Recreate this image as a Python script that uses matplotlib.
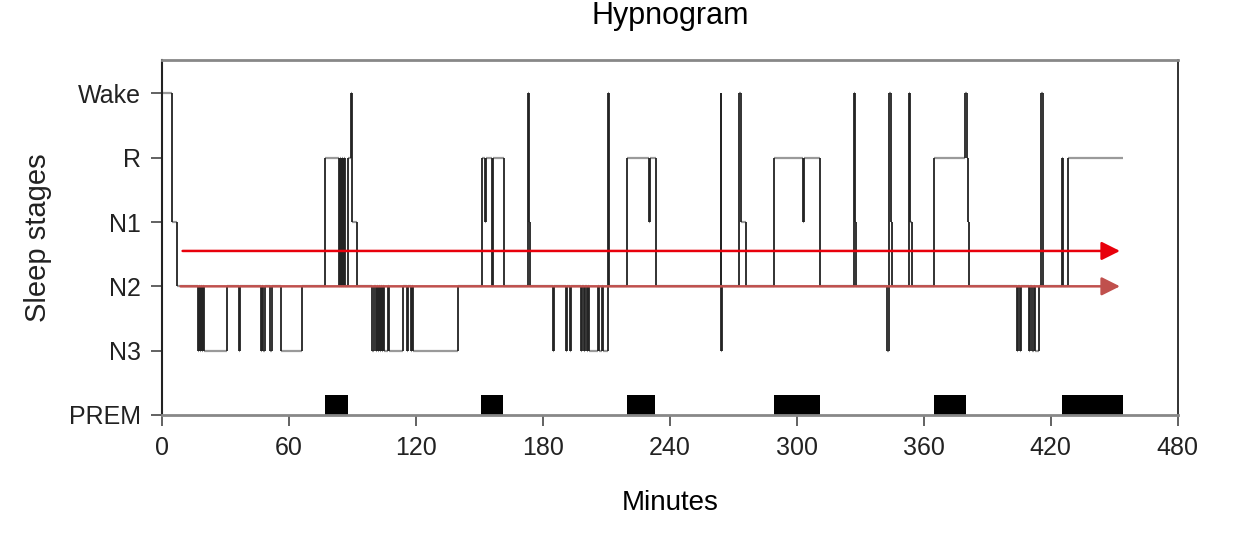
import matplotlib.pyplot as plt

stage_names = ["PREM", "N3", "N2", "N1", "R", "Wake"]
level = {name: i for i, name in enumerate(stage_names)}

# hypnogram change points (minutes, stage entered)
times = [0, 5, 7, 17, 17.5, 18, 18.5, 19, 19.5, 20, 31, 36.5, 37, 47, 47.5, 48, 48.5,
         51, 52, 56.5, 66, 77, 83.5, 84, 84.5, 85, 85.5, 86, 86.5, 88, 89.5, 90, 92,
         99.5, 100, 101, 101.5, 102, 102.5, 103, 103.5, 104, 104.5, 105, 107, 107.5,
         114, 116, 116.5, 117.5, 118, 118.5, 140, 151.5, 152.5, 153, 156, 156.5,
         161.5, 173, 173.5, 174, 185, 185.5, 191, 191.5, 193, 193.5, 198, 198.5,
         199.5, 200, 201, 201.5, 202, 206, 206.5, 208, 208.5, 211, 211.5, 220, 230,
         230.5, 233.5, 264, 264.3, 264.6, 272.5, 273.5, 276, 289, 303, 303.5, 311,
         327, 327.5, 328, 342.5, 343.5, 344.5, 345, 353, 353.5, 354.5, 365, 379.5,
         380.3, 380.8, 381.5, 404, 404.5, 405.5, 406, 409.5, 410, 411, 412, 412.5,
         414.5, 415.5, 416.5, 425.5, 426, 428]
stages = ["Wake", "N1", "N2", "N3", "N2", "N3", "N2", "N3", "N2", "N3", "N2", "N3", "N2",
          "N3", "N2", "N3", "N2", "N3", "N2", "N3", "N2", "R", "N2", "R", "N2", "R",
          "N2", "R", "N2", "R", "Wake", "N1", "N2", "N3", "N2", "N3", "N2", "N3", "N2",
          "N3", "N2", "N3", "N2", "N3", "N2", "N3", "N2", "N3", "N2", "N3", "N2", "N3",
          "N2", "R", "N1", "R", "N2", "R", "N2", "Wake", "N1", "N2", "N3", "N2", "N3",
          "N2", "N3", "N2", "N3", "N2", "N3", "N2", "N3", "N2", "N3", "N2", "N3", "N2",
          "N3", "Wake", "N2", "R", "N1", "R", "N2", "Wake", "N3", "N2", "Wake", "N1",
          "N2", "R", "N1", "R", "N2", "Wake", "N1", "N2", "N3", "Wake", "N1", "N2",
          "Wake", "N1", "N2", "R", "Wake", "R", "N1", "N2", "N3", "N2", "N3", "N2",
          "N3", "N2", "N3", "N2", "N3", "N2", "Wake", "N2", "R", "N2", "R"]
end_time = 454

prem_start = [77, 151, 220, 289, 365, 425.5]
prem_end = [88, 161, 233, 311, 380, 454]

arrow_y = [2.55, 2.0]
arrow_x0 = [8.5, 7.5]
arrow_x1 = [454, 454]
arrow_colors = ["#e8000b", "#c0504d"]

xticks = list(range(0, 481, 60))

fig = plt.figure(figsize=(12.45, 5.6), dpi=100)
ax = fig.add_axes([0.130, 0.259, 0.816, 0.634])

lv = [level[s] for s in stages]
seg_end = times[1:] + [end_time]
ax.hlines(lv, times, seg_end, color="#9a9a9a", lw=1.6)
ax.vlines(times[1:], lv[:-1], lv[1:], color="#222222", lw=1.3)

for a, b in zip(prem_start, prem_end):
    ax.bar(a, 0.31, width=b - a, bottom=0, align="edge", color="black")

for y, x0, x1, c in zip(arrow_y, arrow_x0, arrow_x1, arrow_colors):
    ax.annotate("", xy=(x1, y), xytext=(x0, y),
                arrowprops=dict(arrowstyle="-|>", color=c, lw=1.8, mutation_scale=28))

font = "Liberation Sans"
ax.set_xlim(0, 480)
ax.set_ylim(0, 5.52)
ax.set_xticks(xticks)
ax.set_xticklabels([str(t) for t in xticks], family=font, fontsize=18, color="#222222")
ax.set_yticks(range(len(stage_names)))
ax.set_yticklabels(stage_names, family=font, fontsize=18, color="#222222")
ax.tick_params(axis="both", length=8, width=1.3, color="#555555", pad=7)

ax.spines["left"].set_color("#222222")
ax.spines["left"].set_linewidth(1.5)
ax.spines["right"].set_color("#222222")
ax.spines["right"].set_linewidth(1.3)
ax.spines["top"].set_color("#888888")
ax.spines["top"].set_linewidth(2)
ax.spines["bottom"].set_color("#888888")
ax.spines["bottom"].set_linewidth(2)

fig.text(0.538, 0.972, "Hypnogram", family=font, fontsize=22, ha="center", va="center")
ax.set_xlabel("Minutes", family=font, fontsize=20, labelpad=22)
ax.set_ylabel("Sleep stages", family=font, fontsize=21, color="#222222")
ax.yaxis.set_label_coords(-0.108, 0.5)

plt.savefig("out.png", dpi=100)
